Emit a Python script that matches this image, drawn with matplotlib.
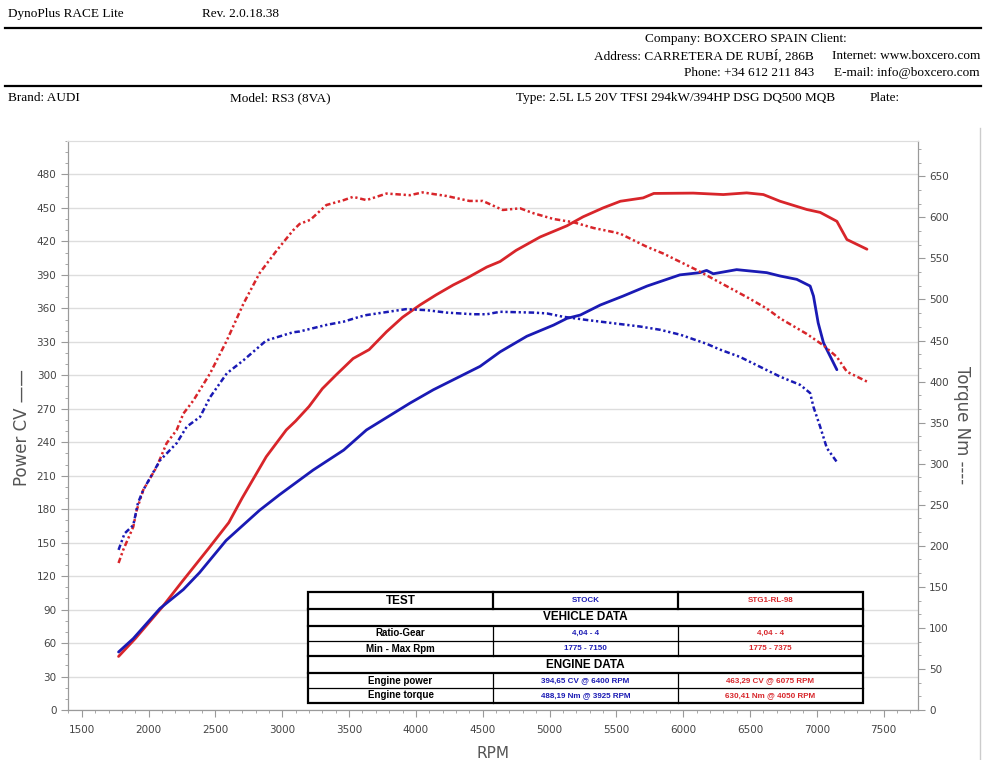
import matplotlib
matplotlib.use("Agg")
import matplotlib.pyplot as plt
from matplotlib.lines import Line2D
from matplotlib.patches import Rectangle
from matplotlib.ticker import MultipleLocator, AutoMinorLocator

# ---------------- data ----------------
stg1_power_rpm = [1775, 1900, 2000, 2100, 2250, 2450, 2600, 2700, 2880, 3030, 3100, 3200, 3300, 3400,
                  3530, 3650, 3780, 3900, 4030, 4150, 4280, 4380, 4530, 4630, 4750, 4930, 5030, 5130,
                  5250, 5400, 5530, 5700, 5780, 6075, 6300, 6475, 6600, 6725, 6925, 7025, 7150, 7225, 7375]
stg1_power_cv = [48, 64, 78, 92, 115, 145, 168, 190, 227, 251, 259, 272, 288, 300,
                 315, 323, 339, 352, 363, 372, 381, 387, 397, 402, 412, 424, 429, 434,
                 442, 450, 456, 459, 463, 463.3, 462, 463.5, 462, 456, 448.6, 446, 438, 421.7, 413]

stg1_torque_rpm = [1775, 1810, 1885, 1910, 1960, 2060, 2135, 2210, 2260, 2335, 2460, 2585, 2710, 2830,
                   2960, 3080, 3130, 3210, 3330, 3460, 3530, 3630, 3780, 3955, 4050, 4230, 4400, 4500,
                   4650, 4780, 4880, 5030, 5180, 5330, 5480, 5530, 5730, 5850, 6100, 6225, 6475, 6625,
                   6725, 6925, 7050, 7150, 7225, 7375]
stg1_torque_nm = [179, 195, 223, 243, 268, 296, 325, 341, 361, 377, 410, 450, 495, 532,
                  560, 584, 592, 597, 615, 621, 625, 621, 629, 627, 630.4, 626, 620, 620,
                  609, 611, 605, 598, 594, 587, 582, 580, 564, 556, 536, 525, 503, 489,
                  477, 458, 444, 430, 412, 400]

stock_power_rpm = [1775, 1885, 2085, 2260, 2380, 2580, 2830, 2980, 3230, 3460, 3630, 3955, 4130, 4330,
                   4480, 4630, 4830, 5030, 5130, 5230, 5380, 5550, 5730, 5975, 6125, 6175, 6225, 6400,
                   6625, 6725, 6850, 6950, 6975, 7010, 7050, 7125, 7150]
stock_power_cv = [52, 64, 91, 108, 123, 152, 179, 193, 215, 233, 251, 275, 287, 299,
                  308, 321, 335, 345, 351, 354, 363, 371, 380, 390, 392, 394, 391, 394.7,
                  392, 389, 386, 380, 371, 347, 329, 311, 305]

stock_torque_rpm = [1775, 1820, 1885, 1920, 1960, 2085, 2210, 2285, 2385, 2460, 2585, 2710, 2880, 3080,
                    3130, 3330, 3460, 3580, 3630, 3925, 4080, 4230, 4430, 4530, 4630, 4880, 4980, 5100,
                    5280, 5480, 5680, 5830, 5980, 6175, 6275, 6425, 6575, 6725, 6875, 6950, 6975, 7025,
                    7075, 7150]
stock_torque_nm = [195, 215, 225, 252, 268, 304, 325, 345, 357, 381, 410, 426, 450, 460,
                   461, 469, 473, 479, 481, 488.2, 487, 484, 482, 482, 485, 484, 483, 479,
                   475, 471, 467, 463, 457, 446, 439, 430, 418, 406, 396, 386, 369, 345,
                   319, 302]

x_ticks = [1500, 2000, 2500, 3000, 3500, 4000, 4500, 5000, 5500, 6000, 6500, 7000, 7500]
cv_ticks = list(range(0, 481, 30))
nm_ticks = list(range(0, 651, 50))

header_left = ["DynoPlus RACE Lite", "Rev. 2.0.18.38"]
company_lines = ["Company: BOXCERO SPAIN Client:",
                 "Address: CARRETERA DE RUBÍ, 286B",
                 "Phone: +34 612 211 843"]
contact_lines = ["Internet: www.boxcero.com", "E-mail: info@boxcero.com"]
vehicle_info = ["Brand: AUDI", "Model: RS3 (8VA)",
                "Type: 2.5L L5 20V TFSI 294kW/394HP DSG DQ500 MQB", "Plate:"]

table_rows = [
    ("TEST", "STOCK", "STG1-RL-98"),
    ("VEHICLE DATA", None, None),
    ("Ratio-Gear", "4,04 - 4", "4,04 - 4"),
    ("Min - Max Rpm", "1775 - 7150", "1775 - 7375"),
    ("ENGINE DATA", None, None),
    ("Engine power", "394,65 CV @ 6400 RPM", "463,29 CV @ 6075 RPM"),
    ("Engine torque", "488,19 Nm @ 3925 RPM", "630,41 Nm @ 4050 RPM"),
]

RED = "#D8252A"
BLUE = "#1A1AB4"
W, H = 985, 760

fig = plt.figure(figsize=(W / 100, H / 100), dpi=100)
fig.patch.set_facecolor("white")

def fx(px):
    return px / W

def fy(py):
    return 1 - py / H

# ---------------- header ----------------
serif = "Liberation Serif"
hfs = 9.5
fig.text(fx(8), fy(14), header_left[0], family=serif, fontsize=hfs, va="center")
fig.text(fx(202), fy(14), header_left[1], family=serif, fontsize=hfs, va="center")
fig.add_artist(Line2D([fx(5), fx(981)], [fy(28), fy(28)], color="black", lw=1.6, transform=fig.transFigure))
fig.text(fx(847), fy(39), company_lines[0], family=serif, fontsize=hfs, va="center", ha="right")
fig.text(fx(814), fy(56), company_lines[1], family=serif, fontsize=hfs, va="center", ha="right")
fig.text(fx(814), fy(73), company_lines[2], family=serif, fontsize=hfs, va="center", ha="right")
fig.text(fx(980), fy(56), contact_lines[0], family=serif, fontsize=hfs, va="center", ha="right")
fig.text(fx(980), fy(73), contact_lines[1], family=serif, fontsize=hfs, va="center", ha="right")
fig.add_artist(Line2D([fx(5), fx(981)], [fy(86), fy(86)], color="black", lw=1.6, transform=fig.transFigure))
fig.text(fx(8), fy(98), vehicle_info[0], family=serif, fontsize=hfs, va="center")
fig.text(fx(230), fy(98), vehicle_info[1], family=serif, fontsize=hfs, va="center")
fig.text(fx(516), fy(98), vehicle_info[2], family=serif, fontsize=hfs, va="center")
fig.text(fx(870), fy(98), vehicle_info[3], family=serif, fontsize=hfs, va="center")

# ---------------- chart ----------------
ax_l, ax_r, ax_t, ax_b = 67.5, 918, 141, 710
ax = fig.add_axes([fx(ax_l), fy(ax_b), fx(ax_r - ax_l), (ax_b - ax_t) / H])
ax2 = ax.twinx()

ax.set_xlim(1393, 7757)
ax.set_ylim(0, 510)
ax2.set_ylim(0, 693)

ax.plot(stg1_power_rpm, stg1_power_cv, color=RED, lw=2.0, solid_capstyle="round", zorder=5)
ax.plot(stock_power_rpm, stock_power_cv, color=BLUE, lw=2.0, solid_capstyle="round", zorder=5)
dd = (0, (2.2, 1.1, 0.9, 1.1, 0.9, 1.1))
ax2.plot(stg1_torque_rpm, stg1_torque_nm, color=RED, lw=1.8, linestyle=dd, zorder=5)
ax2.plot(stock_torque_rpm, stock_torque_nm, color=BLUE, lw=1.8, linestyle=dd, zorder=5)

ax.set_xticks(x_ticks)
ax.xaxis.set_minor_locator(MultipleLocator(100))
ax.set_yticks(cv_ticks)
ax.yaxis.set_minor_locator(MultipleLocator(10))
ax2.set_yticks(nm_ticks)
ax2.yaxis.set_minor_locator(AutoMinorLocator(3))

ax.grid(axis="y", which="major", color="#DDDDDD", lw=1.0)
ax.set_axisbelow(True)

tick_col = "#444444"
spine_col = "#9A9A9A"
for a in (ax, ax2):
    for s in a.spines.values():
        s.set_color(spine_col)
    a.spines["top"].set_color("#DDDDDD")
    a.tick_params(which="major", length=5, color=spine_col, labelsize=7.5, labelcolor=tick_col)
    a.tick_params(which="minor", length=2.5, color=spine_col)
ax.tick_params(axis="y", pad=3)
ax2.tick_params(axis="y", pad=3)
ax.tick_params(axis="x", pad=6)

ax.set_xlabel("RPM", fontsize=11, color="#555555", labelpad=8)
fig.text(fx(22), fy(428), "Power CV ——", fontsize=12, color="#555555", rotation=90,
         ha="center", va="center")
fig.text(fx(962), fy(425), "Torque Nm ----", fontsize=12, color="#555555", rotation=270,
         ha="center", va="center")

# outer chart frame line on the right
fig.add_artist(Line2D([fx(980), fx(980)], [fy(128), fy(760)], color="#CCCCCC", lw=1.0, transform=fig.transFigure))

# ---------------- table ----------------
tx0, tx1, tx2, tx3 = 308, 493, 678, 863
row_y = [592, 609, 626, 641, 656, 673, 688, 703]
fig.add_artist(Rectangle((fx(tx0), fy(row_y[-1])), fx(tx3 - tx0), (row_y[-1] - row_y[0]) / H,
                         transform=fig.transFigure, facecolor="white", edgecolor="black", lw=1.6, zorder=10))
thick_rows = {1, 2, 4, 5}
for i, yy in enumerate(row_y[1:-1], start=1):
    fig.add_artist(Line2D([fx(tx0), fx(tx3)], [fy(yy), fy(yy)], color="black",
                          lw=1.6 if i in thick_rows else 0.9, transform=fig.transFigure, zorder=11))
for i, row in enumerate(table_rows):
    ytop, ybot = row_y[i], row_y[i + 1]
    yc = fy((ytop + ybot) / 2)
    if row[1] is None:
        fig.text(fx((tx0 + tx3) / 2), yc, row[0], family="Liberation Sans", fontsize=8.5,
                 weight="bold", ha="center", va="center", zorder=12)
        continue
    lw = 1.6 if i == 0 else 0.9
    for xx in (tx1, tx2):
        fig.add_artist(Line2D([fx(xx), fx(xx)], [fy(ytop), fy(ybot)], color="black", lw=lw,
                              transform=fig.transFigure, zorder=11))
    fs0 = 8.5 if i == 0 else 7
    fig.text(fx((tx0 + tx1) / 2), yc, row[0], family="Liberation Sans", fontsize=fs0,
             weight="bold", ha="center", va="center", zorder=12)
    fig.text(fx((tx1 + tx2) / 2), yc, row[1], family="Liberation Sans", fontsize=5.8,
             weight="bold", ha="center", va="center", color=BLUE, zorder=12)
    fig.text(fx((tx2 + tx3) / 2), yc, row[2], family="Liberation Sans", fontsize=5.8,
             weight="bold", ha="center", va="center", color=RED, zorder=12)

fig.savefig("out.png", dpi=100)
